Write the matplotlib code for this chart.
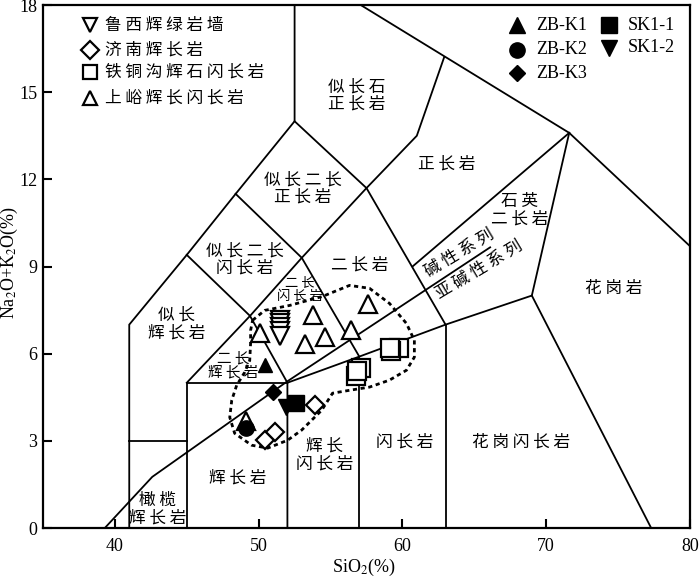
import matplotlib
matplotlib.use("Agg")
import matplotlib.pyplot as plt

plt.rcParams['font.family'] = ['Liberation Serif', 'DejaVu Serif']
plt.rcParams['mathtext.fontset'] = 'stix'
CJK = ['Noto Sans CJK SC', 'DejaVu Sans']

# TAS field boundaries (SiO2, Na2O+K2O)
boundaries = [
    [(41, 0), (41, 7), (45, 9.4), (48.4, 11.5), (52.5, 14), (52.5, 18)],
    [(41, 3), (45, 3)],
    [(45, 0), (45, 5), (52, 5)],
    [(52, 0), (52, 5), (57, 5.9), (63, 7), (69, 8), (77.3, 0)],
    [(57, 0), (57, 5.9)],
    [(63, 0), (63, 7)],
    [(45, 5), (49.4, 7.3), (53, 9.3), (57.5, 11.7), (61, 13.5), (62.9, 16.2)],
    [(45, 9.4), (49.4, 7.3), (52, 5)],
    [(48.4, 11.5), (53, 9.3), (57, 5.9)],
    [(52.5, 14), (57.5, 11.7), (63, 7)],
    [(57.1, 18), (71.6, 13.6), (80, 9.7)],
    [(71.6, 13.6), (69, 8)],
    [(71.6, 13.6), (60.7, 9.0)],
]
# alkaline / subalkaline divide
irvine = [(39.3, 0), (42.6, 1.76), (52, 5.05), (66.1, 9.66)]

# dotted outline around samples
outline = [(49.58, 7.15), (50.42, 7.49), (52.15, 7.66), (54.44, 7.97), (56.32, 8.35),
           (57.71, 8.25), (59.10, 7.73), (60.28, 7.04), (60.83, 6.46), (60.83, 5.88),
           (60.28, 5.43), (59.10, 5.09), (57.71, 4.85), (56.32, 4.74), (55.14, 4.64),
           (54.38, 4.05), (52.99, 3.37), (52.01, 3.02), (50.63, 2.75), (49.51, 2.85),
           (48.33, 3.26), (47.99, 3.81), (48.13, 4.40), (48.47, 4.91), (49.03, 5.36),
           (49.38, 5.77), (49.44, 6.36), (49.44, 6.80), (49.58, 7.15)]

# samples
luxi_x = [51.5, 51.5, 51.5, 51.5, 51.5]
luxi_y = [7.15, 7.04, 6.92, 6.78, 6.61]
jinan_x = [50.42, 51.11, 53.89]
jinan_y = [3.02, 3.31, 4.23]
ttg_x = [59.75, 59.2, 59.15, 57.13, 56.74, 56.83]
ttg_y = [6.18, 6.09, 6.18, 5.52, 5.22, 5.41]
shangyu_x = [49.15, 50.1, 53.77, 53.19, 54.58, 56.44, 57.59]
shangyu_y = [3.70, 6.72, 7.32, 6.35, 6.57, 6.80, 7.72]
zbk1 = (50.42, 5.6)
zbk2 = (49.15, 3.43)
zbk3 = (50.99, 4.68)
sk11 = (52.62, 4.29)
sk12 = (51.93, 4.17)

# field names: (x, y, text, size, rotation)
fields = [
    (56.8, 14.88, '似 长 石\n正 长 岩', 12, 0),
    (53.06, 11.68, '似 长 二 长\n正 长 岩', 12, 0),
    (49.03, 9.24, '似 长 二 长\n闪 长 岩', 12, 0),
    (52.85, 8.21, '二 长\n闪 长 岩', 9.5, 0),
    (57.0, 9.04, '二 长 岩', 12, 0),
    (63.06, 12.54, '正 长 岩', 12, 0),
    (68.13, 10.93, '石 英\n二 长 岩', 12, 0),
    (63.96, 9.45, '碱 性 系 列', 12, 31),
    (65.35, 8.87, '亚 碱 性 系 列', 12, 31),
    (74.72, 8.25, '花 岗 岩', 12, 0),
    (44.3, 7.01, '似 长\n辉 长 岩', 12, 0),
    (48.2, 5.6, '二 长\n辉 长 岩', 10.5, 0),
    (48.54, 1.72, '辉 长 岩', 12, 0),
    (42.99, 0.65, '橄 榄\n辉 长 岩', 12, 0),
    (54.58, 2.51, '辉 长\n闪 长 岩', 12, 0),
    (60.14, 2.96, '闪 长 岩', 12, 0),
    (68.26, 2.96, '花 岗 闪 长 岩', 12, 0),
]

fig = plt.figure(figsize=(7, 5.77), dpi=100)
ax = fig.add_axes([0.0614, 0.0849, 0.9243, 0.9064])

for seg in boundaries:
    xs, ys = zip(*seg)
    ax.plot(xs, ys, color='black', lw=1.3, solid_joinstyle='miter', zorder=2)
xs, ys = zip(*irvine)
ax.plot(xs, ys, color='black', lw=1.3, zorder=2)
xs, ys = zip(*outline)
ax.plot(xs, ys, color='black', lw=2.0, linestyle=(0, (1.5, 1.3)), zorder=3)

for x, y, t, s, r in fields:
    ax.text(x, y, t, fontsize=s, rotation=r, ha='center', va='center',
            family=CJK, linespacing=1.05, rotation_mode='anchor', zorder=4)

op = dict(color='black', markerfacecolor='white', markeredgewidth=1.6,
          linestyle='none', zorder=5)
ax.plot(shangyu_x, shangyu_y, marker='^', markersize=12.5, **op)
ax.plot(luxi_x, luxi_y, marker='v', markersize=12.5, **op)
ax.plot(jinan_x, jinan_y, marker='D', markersize=9, **op)
ax.plot(ttg_x, ttg_y, marker='s', markersize=13, **op)

fp = dict(color='black', linestyle='none', zorder=6)
ax.plot(*zbk1, marker='^', markersize=10, **fp)
ax.plot(*zbk2, marker='o', markersize=11, **fp)
ax.plot(*zbk3, marker='D', markersize=8, **fp)
ax.plot(*sk12, marker='v', markersize=11, **fp)
ax.plot(*sk11, marker='s', markersize=12, **fp)

# legends (drawn by hand to keep the layout)
tl = [('v', '鲁 西 辉 绿 岩 墙', 0.9617), ('D', '济 南 辉 长 岩', 0.914),
      ('s', '铁 铜 沟 辉 石 闪 长 岩', 0.872), ('^', '上 峪 辉 长 闪 长 岩', 0.822)]
for m, t, ya in tl:
    ax.plot([0.0726], [ya], marker=m, markersize=9 if m == 'D' else 10.5,
            transform=ax.transAxes, **op)
    ax.text(0.0958, ya, t, fontsize=12, family=CJK, va='center', ha='left',
            transform=ax.transAxes)

tr = [('^', 'ZB-K1', 0.7326, 0.9617), ('o', 'ZB-K2', 0.7326, 0.914),
      ('D', 'ZB-K3', 0.7326, 0.870), ('s', 'SK1-1', 0.8748, 0.9617),
      ('v', 'SK1-2', 0.8748, 0.918)]
for m, t, xa, ya in tr:
    ax.plot([xa], [ya], marker=m, markersize=8 if m == 'D' else 11,
            transform=ax.transAxes, **fp)
    ax.text(xa + 0.029, ya, t, fontsize=13, va='center', ha='left',
            transform=ax.transAxes)

ax.set_xlim(35, 80)
ax.set_ylim(0, 18)
ax.set_xticks([40, 50, 60, 70, 80])
ax.set_yticks([0, 3, 6, 9, 12, 15, 18])
ax.tick_params(direction='in', length=6.5, width=1.5, labelsize=13)
ax.tick_params(axis='x', pad=7)
ax.tick_params(axis='y', pad=4)
for sp in ax.spines.values():
    sp.set_linewidth(1.6)

ax.set_xlabel('SiO$_2$(%)', fontsize=13)
ax.set_ylabel('Na$_2$O+K$_2$O(%)', fontsize=13)
ax.xaxis.set_label_coords(0.496, -0.056)
ax.yaxis.set_label_coords(-0.035, 0.507)

fig.savefig('out.png', dpi=100)
